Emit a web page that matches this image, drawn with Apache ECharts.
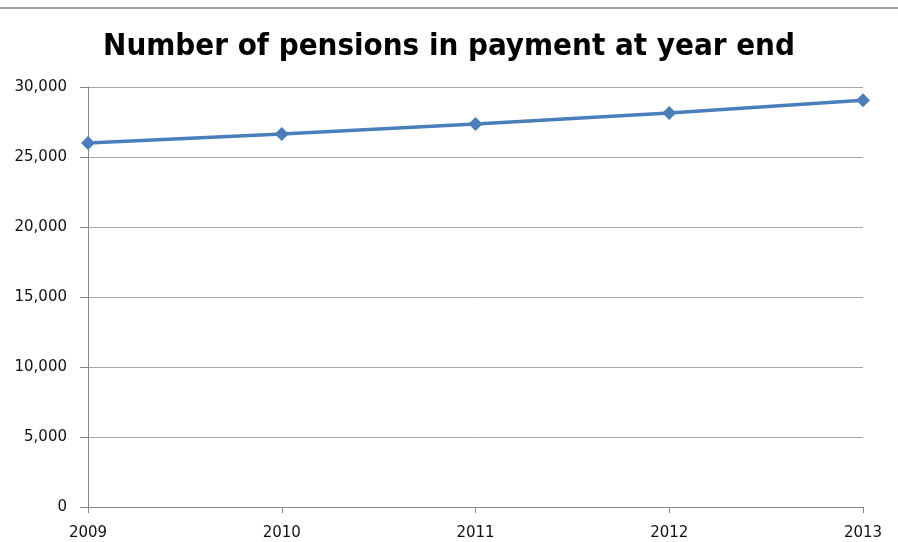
<!DOCTYPE html>
<html>
<head>
<meta charset="utf-8">
<script src="https://cdn.jsdelivr.net/npm/echarts@6/dist/echarts.min.js"></script>
<style>
html, body { margin: 0; padding: 0; background: #fff; }
#main { width: 898px; height: 542px; }
</style>
</head>
<body>
<div id="main"></div>
<script>
// data
var years = ['2009', '2010', '2011', '2012', '2013'];
var pensions = [26000, 26650, 27350, 28150, 29050];
var yTicks = [0, 5000, 10000, 15000, 20000, 25000, 30000];

var myChart = echarts.init(document.getElementById('main'));

var option = {
	animation: false,
	title: {
		text: 'Number of pensions in payment at year end',
		left: 'center',
		top: 26,
		textStyle: {
			fontFamily: '"Liberation Sans Narrow", "DejaVu Sans Condensed", sans-serif',
			fontWeight: 'bold',
			fontSize: 31,
			color: '#000'
		}
	},
	graphic: [{
		type: 'line',
		shape: { x1: 0, y1: 8, x2: 898, y2: 8 },
		style: { stroke: '#808080', lineWidth: 1.5 }
	}],
	grid: {
		left: 88,
		right: 35,
		top: 87,
		bottom: 35
	},
	xAxis: {
		type: 'category',
		data: years,
		boundaryGap: false,
		axisLine: { lineStyle: { color: '#888' } },
		axisTick: { show: true, length: 6, lineStyle: { color: '#888' } },
		axisLabel: {
			color: '#111',
			fontFamily: 'DejaVu Sans',
			fontSize: 15,
			margin: 19
		}
	},
	yAxis: {
		type: 'value',
		min: yTicks[0],
		max: yTicks[yTicks.length - 1],
		interval: 5000,
		axisLine: { show: true, lineStyle: { color: '#888' } },
		axisTick: { show: true, length: 8, lineStyle: { color: '#888' } },
		splitLine: { lineStyle: { color: '#a6a6a6' } },
		axisLabel: {
			color: '#111',
			fontFamily: 'DejaVu Sans',
			fontSize: 15,
			margin: 21,
			formatter: function(v) {
				return v.toLocaleString('en-US');
			}
		}
	},
	series: [{
		type: 'line',
		data: pensions,
		symbol: 'diamond',
		symbolSize: 14,
		lineStyle: { color: '#4a7ebb', width: 3.5 },
		itemStyle: { color: '#4a7ebb' }
	}]
};

myChart.setOption(option);
</script>
</body>
</html>
